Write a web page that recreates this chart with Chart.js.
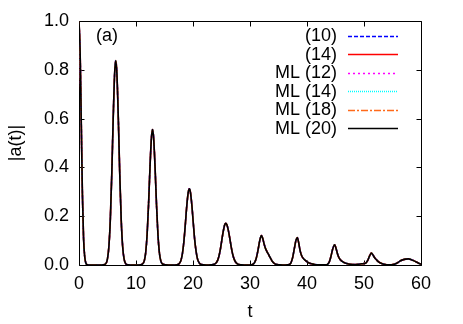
<!DOCTYPE html>
<html><head><meta charset="utf-8">
<script src="https://cdn.jsdelivr.net/npm/chart.js@4.4.1/dist/chart.umd.min.js"></script>
<style>html,body{margin:0;padding:0;background:#fff;overflow:hidden;}</style>
</head><body>
<canvas id="c" width="463" height="324" style="display:block;width:463px;height:324px"></canvas>
<script>
// ---- data ----
const tValues = [
  0, 0.2, 0.4, 0.6, 0.8, 1.0, 1.2, 1.5, 2.0, 3.0, 4.0,
  4.5, 4.8, 5.0, 5.25, 5.5, 5.75, 6.0, 6.25, 6.45, 6.65, 6.9, 7.15, 7.4, 7.65, 7.9, 8.2, 8.6, 9.5, 10.5,
  11.1, 11.45, 11.7, 11.95, 12.2, 12.45, 12.7, 12.9, 13.1, 13.35, 13.6, 13.85, 14.1, 14.35, 14.65, 15.2, 16.2,
  17.2, 17.6, 17.9, 18.15, 18.4, 18.65, 18.9, 19.15, 19.35, 19.55, 19.8, 20.05, 20.3, 20.55, 20.8, 21.1, 21.5, 22.3,
  23.2, 23.7, 24.0, 24.3, 24.55, 24.8, 25.05, 25.3, 25.55, 25.75, 25.95, 26.2, 26.45, 26.7, 26.95, 27.2, 27.5, 27.9, 28.5, 29.5,
  30.2, 30.5, 30.8, 31.1, 31.4, 31.7, 32.0, 32.25, 32.5, 32.75, 33.0, 33.3, 33.6, 34.0, 34.5, 35.2, 36.2,
  36.9, 37.2, 37.5, 37.8, 38.05, 38.3, 38.55, 38.8, 39.1, 39.4, 39.7, 40.1, 40.6, 41.2, 41.8, 42.6,
  43.3, 43.6, 43.9, 44.2, 44.5, 44.85, 45.1, 45.4, 45.7, 46.0, 46.5, 47.0, 47.6, 48.3, 49.0, 49.6, 50.0,
  50.4, 50.7, 51.0, 51.3, 51.6, 51.9, 52.2, 52.5, 53.0, 53.5, 54.0, 54.8,
  55.3, 55.8, 56.3, 56.8, 57.3, 57.8, 58.3, 58.8, 59.3, 59.7, 60.0
];
const amplitude = [
  1.0, 0.87, 0.58, 0.29, 0.11, 0.035, 0.008, 0.001, 0, 0, 0,
  0.002, 0.009, 0.026, 0.078, 0.189, 0.373, 0.599, 0.784, 0.838, 0.784, 0.599, 0.373, 0.189, 0.078, 0.026, 0.005, 0.001, 0, 0,
  0.004, 0.017, 0.051, 0.125, 0.247, 0.397, 0.519, 0.555, 0.519, 0.397, 0.247, 0.125, 0.051, 0.017, 0.004, 0.001, 0,
  0.001, 0.006, 0.020, 0.048, 0.096, 0.165, 0.240, 0.296, 0.312, 0.298, 0.245, 0.172, 0.103, 0.055, 0.024, 0.008, 0.002, 0,
  0.001, 0.003, 0.007, 0.018, 0.036, 0.064, 0.101, 0.137, 0.164, 0.171, 0.165, 0.142, 0.110, 0.074, 0.045, 0.025, 0.011, 0.003, 0.001, 0,
  0.001, 0.003, 0.010, 0.028, 0.060, 0.099, 0.121, 0.108, 0.084, 0.066, 0.054, 0.041, 0.028, 0.012, 0.003, 0.001, 0,
  0.002, 0.010, 0.032, 0.070, 0.100, 0.112, 0.090, 0.058, 0.036, 0.026, 0.019, 0.012, 0.006, 0.003, 0.001, 0.001,
  0.001, 0.003, 0.012, 0.035, 0.065, 0.083, 0.068, 0.042, 0.026, 0.018, 0.010, 0.006, 0.003, 0.002, 0.003, 0.005, 0.006,
  0.010, 0.021, 0.038, 0.049, 0.040, 0.029, 0.021, 0.014, 0.007, 0.003, 0.001, 0.001,
  0.003, 0.008, 0.016, 0.021, 0.024, 0.025, 0.022, 0.017, 0.011, 0.006, 0.003
];
const seriesLabels = ['(10)', '(14)', 'ML (12)', 'ML (14)', 'ML (18)', 'ML (20)'];
const xTickValues = [0, 10, 20, 30, 40, 50, 60];
const yTickValues = [0, 0.2, 0.4, 0.6, 0.8, 1.0];

// ---- styles ----
const lineColors = ['#0000ff', '#ff0000', '#ff00ff', '#00ffff', '#ff6a1a', '#000000'];
const lineDashes = [[4, 2], [], [2, 3], [1, 1], [7, 2, 2, 2], []];
const lineWidths = [1.5, 1.6, 1.5, 1.5, 1.5, 1.6];
const FONT = '"Liberation Sans", Arial, Helvetica, sans-serif';
const FS = 18;

const points = tValues.map((t, i) => ({x: t, y: amplitude[i]}));
const datasets = seriesLabels.map((lab, i) => ({
  label: lab,
  data: points,
  borderColor: lineColors[i],
  borderDash: lineDashes[i],
  borderWidth: lineWidths[i],
  pointRadius: 0,
  fill: false,
  cubicInterpolationMode: 'monotone',
  order: seriesLabels.length - i
}));

const framePlugin = {
  id: 'frame',
  beforeDatasetsDraw(chart) {
    const {ctx, chartArea: a, scales: {x, y}} = chart;
    ctx.save();
    ctx.strokeStyle = '#000';
    ctx.lineWidth = 1;
    const L = Math.round(a.left) + 0.5, R = Math.round(a.right) + 0.5;
    const T = Math.round(a.top) + 0.5, B = Math.round(a.bottom) + 0.5;
    ctx.beginPath();
    ctx.rect(L, T, R - L, B - T);
    const tl = 5;
    xTickValues.forEach(v => {
      const px = Math.round(x.getPixelForValue(v)) + 0.5;
      ctx.moveTo(px, B); ctx.lineTo(px, B - tl);
      ctx.moveTo(px, T); ctx.lineTo(px, T + tl);
    });
    yTickValues.forEach(v => {
      const py = Math.round(y.getPixelForValue(v)) + 0.5;
      ctx.moveTo(L, py); ctx.lineTo(L + tl, py);
      ctx.moveTo(R, py); ctx.lineTo(R - tl, py);
    });
    ctx.stroke();
    ctx.restore();
  },
  afterDraw(chart) {
    const {ctx} = chart;
    ctx.save();
    ctx.font = FS + 'px ' + FONT;
    ctx.fillStyle = '#000';
    ctx.textBaseline = 'middle';
    ctx.textAlign = 'left';
    ctx.fillText('(a)', 96, 36);
    ctx.textAlign = 'right';
    chart.data.datasets.forEach((ds, i) => {
      const yy = 35.7 + i * 18.5;
      ctx.fillStyle = '#000';
      ctx.fillText(ds.label, 337, yy + 0.5);
      ctx.save();
      ctx.strokeStyle = ds.borderColor;
      ctx.lineWidth = ds.borderWidth;
      ctx.setLineDash(ds.borderDash);
      ctx.beginPath();
      ctx.moveTo(348, Math.round(yy) + 0.5);
      ctx.lineTo(398, Math.round(yy) + 0.5);
      ctx.stroke();
      ctx.restore();
    });
    ctx.restore();
  }
};

new Chart(document.getElementById('c'), {
  type: 'line',
  data: {datasets},
  options: {
    responsive: false,
    animation: false,
    devicePixelRatio: 1,
    layout: {padding: {left: 0, top: 21, right: 42, bottom: 0}},
    plugins: {legend: {display: false}, tooltip: {enabled: false}},
    scales: {
      x: {
        type: 'linear', min: 0, max: 60,
        grid: {display: false, drawTicks: false},
        border: {display: false},
        afterBuildTicks: s => { s.ticks = xTickValues.map(v => ({value: v})); },
        afterFit: s => { s.height = 59; },
        ticks: {color: '#000', font: {family: FONT, size: FS}, padding: 8, maxRotation: 0,
                callback: v => String(v)},
        title: {display: true, text: 't', color: '#000', font: {family: FONT, size: FS}, padding: {top: 0, bottom: 1}}
      },
      y: {
        type: 'linear', min: 0, max: 1,
        grid: {display: false, drawTicks: false},
        border: {display: false},
        afterBuildTicks: s => { s.ticks = yTickValues.map(v => ({value: v})); },
        afterFit: s => { s.width = 79; },
        ticks: {color: '#000', font: {family: FONT, size: FS}, padding: 10,
                callback: v => Number(v).toFixed(1)},
        title: {display: true, text: '|a(t)|', color: '#000', font: {family: FONT, size: FS}, padding: {top: 5, bottom: 0}}
      }
    }
  },
  plugins: [framePlugin]
});
</script>
</body></html>
